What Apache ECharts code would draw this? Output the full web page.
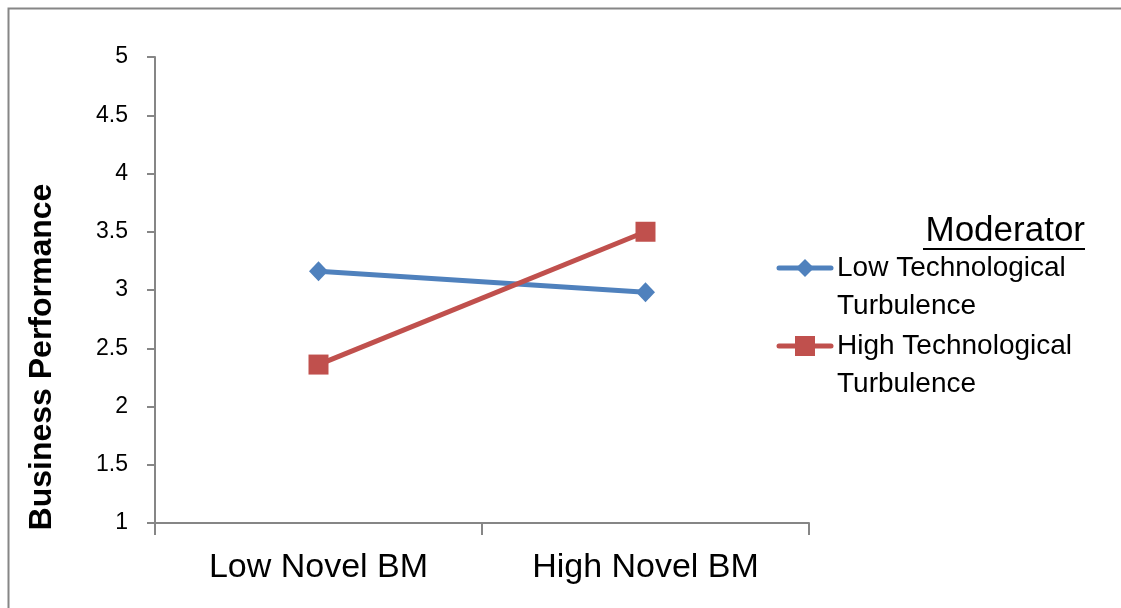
<!DOCTYPE html>
<html><head><meta charset="utf-8">
<script src="https://cdn.jsdelivr.net/npm/echarts@6/dist/echarts.min.js"></script>
<style>html,body{margin:0;padding:0;background:#fff}#c{width:1121px;height:608px}</style>
</head><body><div id="c"></div>
<script>
const categories = ['Low Novel BM', 'High Novel BM'];
const lowTurbulence = [3.16, 2.98];
const highTurbulence = [2.36, 3.5];
const seriesNames = ['Low Technological Turbulence', 'High Technological Turbulence'];
const legendLines = [['Low Technological', 'Turbulence'], ['High Technological', 'Turbulence']];
const yTitle = 'Business Performance';
const legendTitle = 'Moderator';

const FONT = 'Liberation Sans';
const BLUE = '#4F81BD', RED = '#C0504D';
const chart = echarts.init(document.getElementById('c'));

function legendItem(y, color, symbol, lines) {
  const els = [
    { type: 'line', shape: { x1: 779, y1: y, x2: 831, y2: y }, style: { stroke: color, lineWidth: 5, lineCap: 'round' }, silent: true }
  ];
  if (symbol === 'diamond') {
    els.push({ type: 'polygon', shape: { points: [[805, y - 9], [814, y], [805, y + 9], [796, y]] }, style: { fill: color }, silent: true });
  } else {
    els.push({ type: 'rect', shape: { x: 795, y: y - 10, width: 20, height: 20 }, style: { fill: color }, silent: true });
  }
  lines.forEach((t, i) => {
    els.push({ type: 'text', x: 837, y: y + i * 38, style: { text: t, fontSize: 28, fill: '#000', fontFamily: FONT, verticalAlign: 'middle', align: 'left' }, silent: true });
  });
  return els;
}

chart.setOption({
  animation: false,
  backgroundColor: '#fff',
  textStyle: { fontFamily: FONT },
  grid: { left: 155, right: 312, top: 57, bottom: 85 },
  xAxis: {
    type: 'category', data: categories, boundaryGap: true,
    axisLine: { lineStyle: { color: '#868686', width: 2 } },
    axisTick: { show: true, length: 12, lineStyle: { color: '#868686', width: 2 } },
    axisLabel: { color: '#000', fontSize: 34, margin: 28, fontFamily: FONT },
    splitLine: { show: false }
  },
  yAxis: {
    type: 'value', min: 1, max: 5, interval: 0.5,
    axisLine: { show: true, lineStyle: { color: '#868686', width: 2 } },
    axisTick: { show: true, length: 8, lineStyle: { color: '#868686', width: 2 } },
    axisLabel: { color: '#000', fontSize: 23, margin: 27, fontFamily: FONT },
    splitLine: { show: false }
  },
  legend: { show: false, data: seriesNames },
  graphic: [
    { type: 'polyline', shape: { points: [[8.5, 620], [8.5, 8.5], [1121, 8.5]] }, style: { fill: 'none', stroke: '#868686', lineWidth: 2 }, silent: true },
    { type: 'text', x: 42, y: 357, rotation: Math.PI / 2, style: { text: yTitle, fontSize: 32, fontWeight: 'bold', fill: '#000', fontFamily: FONT, align: 'center', verticalAlign: 'middle' }, silent: true },
    { type: 'text', x: 1085, y: 231, style: { text: legendTitle, fontSize: 35, fill: '#000', fontFamily: FONT, align: 'right', verticalAlign: 'middle' }, silent: true },
    { type: 'rect', shape: { x: 923, y: 248, width: 162, height: 2 }, style: { fill: '#000' }, silent: true },
    ...legendItem(268, BLUE, 'diamond', legendLines[0]),
    ...legendItem(346, RED, 'rect', legendLines[1])
  ],
  series: [
    { name: seriesNames[0], type: 'line', data: lowTurbulence, symbol: 'diamond', symbolSize: [19, 20],
      itemStyle: { color: BLUE }, lineStyle: { color: BLUE, width: 5 } },
    { name: seriesNames[1], type: 'line', data: highTurbulence, symbol: 'rect', symbolSize: 20,
      itemStyle: { color: RED }, lineStyle: { color: RED, width: 5 } }
  ]
});
</script></body></html>
